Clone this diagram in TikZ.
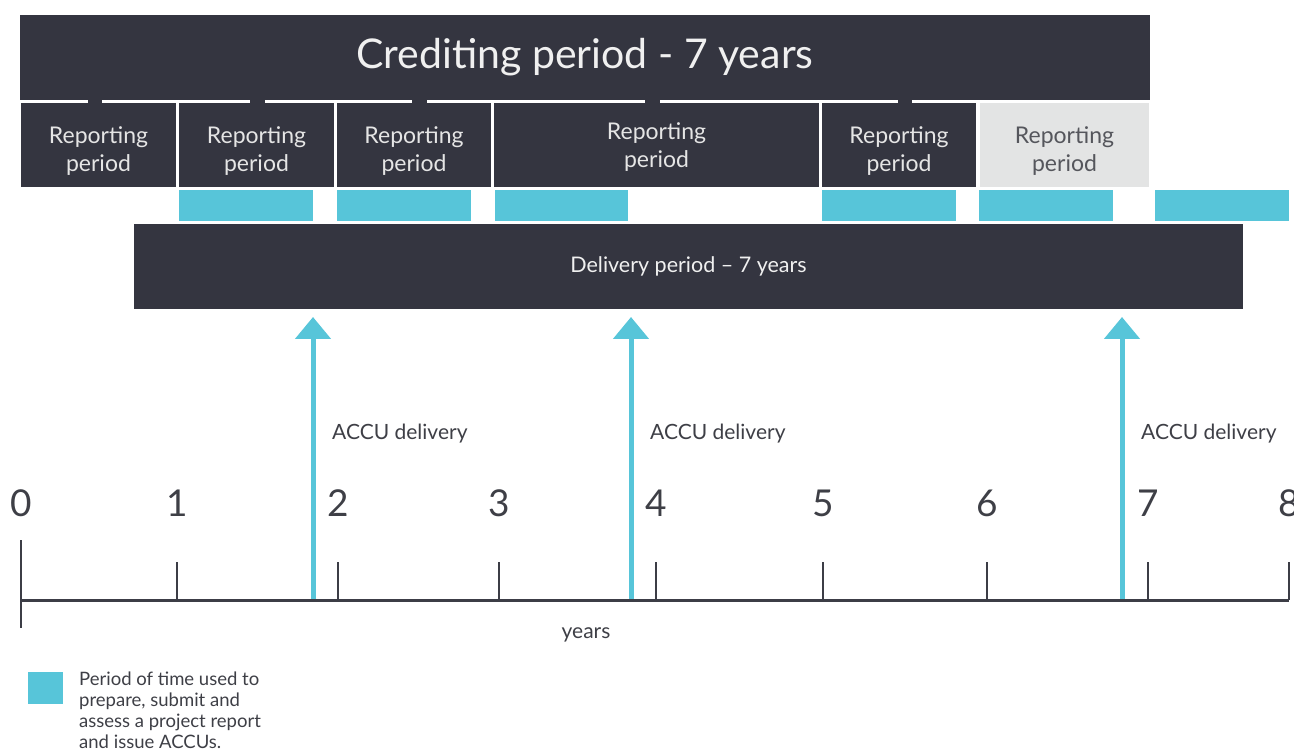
\documentclass[tikz,border=0pt]{standalone}
\usepackage{fontspec}
\setmainfont{Lato}
\usetikzlibrary{arrows.meta}

\definecolor{barDark}{RGB}{52,53,64}
\definecolor{accuCyan}{RGB}{87,197,217}
\definecolor{lastGrey}{RGB}{227,228,228}
\definecolor{axisGrey}{RGB}{60,61,70}
\definecolor{textGrey}{RGB}{62,63,70}
\definecolor{periodGrey}{RGB}{85,86,92}

\begin{document}
\begin{tikzpicture}[
    x=1pt,
    y=-1pt,
    darkbar/.style={fill=barDark, text=white!94!black, inner sep=0pt, outer sep=0pt},
    period/.style={draw=white, line width=1.5pt, fill=barDark, minimum height=86pt, inner sep=0pt},
    periodtext/.style={text=white!90!black, align=center, inner sep=0pt, font=\fontsize{23}{28}\selectfont},
    prep/.style={fill=accuCyan, minimum height=31pt, inner sep=0pt},
    note/.style={text=textGrey, inner sep=0pt, font=\fontsize{21}{24}\selectfont},
    num/.style={text=textGrey, inner sep=0pt, font=\fontsize{37}{40}\selectfont},
    deliver/.style={draw=accuCyan, line width=5pt, -{Triangle[width=35pt,length=22pt]}},
    axisline/.style={draw=axisGrey, line width=3pt},
    axistick/.style={draw=axisGrey, line width=2pt}
]
\useasboundingbox (0,0) rectangle (1294,751);

\node[darkbar, minimum width=1130pt, minimum height=85.5pt] (crediting) at (585,57.75) {};
\node[darkbar, fill=none, font=\fontsize{41}{44}\selectfont] (creditingtext) at (585,57) {Crediting period - 7 years};

\foreach \i/\a/\b/\dy in {1/20/177/6, 2/178/335/6, 3/336/492/6, 4/493/820/2, 5/821/977/6} {
  \node[period, minimum width={(\b-\a)*1pt}] (rp\i) at ({(\a+\b)/2},145) {};
  \node[periodtext] (rptext\i) at ({(\a+\b)/2},{145+\dy}) {Reporting\\period};
}
\node[period, fill=lastGrey, minimum width=171pt] (rp6) at (1064.5,145) {};
\node[periodtext, text=periodGrey] (rptext6) at (1064.5,151) {Reporting\\period};

% dark joints across the white seam
\foreach \a/\b in {88/102, 250/265, 412/427, 645/660, 898/912}
  \fill[barDark] (\a,99) rectangle (\b,103.5);

\foreach \i/\a/\b in {1/179/313, 2/337/471, 3/495/628, 4/822/956, 5/979/1113, 6/1155/1289}
  \node[prep, minimum width={(\b-\a)*1pt}] (prep\i) at ({(\a+\b)/2},205.5) {};

\node[darkbar, minimum width=1109pt, minimum height=85pt, font=\fontsize{21.5}{24}\selectfont] (delivery) at (688.5,266.5) {Delivery period -- 7 years};

\foreach \i/\x in {1/313, 2/631, 3/1122} {
  \coordinate (accu\i) at (\x,600);
  \draw[deliver, shorten >=8pt] (accu\i) -- (accu\i |- delivery.south);
  \node[note, anchor=west] (accutext\i) at ({\x+19},434) {ACCU delivery};
}

\coordinate (origin) at (21,600);
\coordinate (axisend) at (1289,600);
\draw[axisline] (origin) -- (axisend);
\draw[axistick] (21,540) -- (21,628);
\foreach \n/\x in {0/21, 1/177, 2/338, 3/499, 4/656, 5/823, 6/987, 7/1148, 8/1289} {
  \node[num] (n\n) at (\x,503) {\n};
  \ifnum\n>0 \draw[axistick] (\x,600) -- (\x,562); \fi
}
\node[note] (years) at (586,635) {years};

\node[fill=accuCyan, minimum width=35pt, minimum height=32pt, inner sep=0pt] (key) at (45.5,687.5) {};
\node[note, anchor=north west, align=left, font=\fontsize{18.5}{21}\selectfont] (keytext) at (79,672) {Period of time used to\\prepare, submit and\\assess a project report\\and issue ACCUs.};
\end{tikzpicture}
\end{document}
